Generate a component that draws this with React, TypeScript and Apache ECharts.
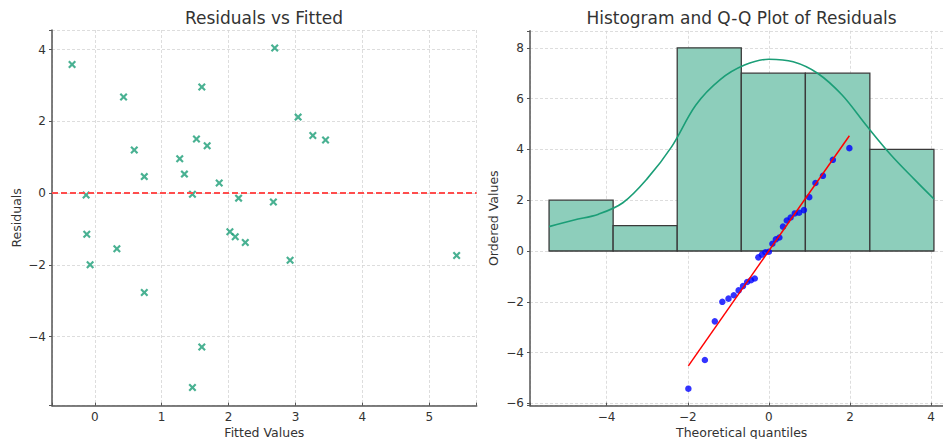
import React, { useEffect, useRef } from 'react';
import * as echarts from 'echarts';

// Residuals vs Fitted
const fittedValues = [-0.34, -0.13, 0.43, 0.59, 0.74, 1.27, 1.34, 1.46, 1.52, 1.6, 1.68, 1.86, 2.15, 2.67, 2.69, 3.04, 3.26, 3.45, -0.12, 0.33, -0.07, 0.74, 2.02, 2.1, 2.25, 2.92, 5.41, 1.6, 1.46];
const residualValues = [3.59, -0.05, 2.68, 1.2, 0.46, 0.96, 0.53, -0.03, 1.51, 2.96, 1.32, 0.285, -0.14, -0.25, 4.05, 2.12, 1.61, 1.48, -1.15, -1.55, -2.0, -2.77, -1.08, -1.22, -1.38, -1.875, -1.74, -4.29, -5.42];

// Histogram of residuals
const histBinStart = [-5.42, -3.84, -2.26, -0.68, 0.9, 2.49];
const histBinEnd = [-3.84, -2.26, -0.68, 0.9, 2.49, 4.07];
const histCounts = [2, 1, 8, 7, 7, 4];

// KDE curve (scaled to counts)
const kdeX = [-5.42, -4.8, -4.2, -3.6, -3.0, -2.4, -1.8, -1.2, -0.6, 0.0, 0.6, 1.2, 1.8, 2.4, 3.0, 3.6, 4.07];
const kdeY = [0.96, 1.22, 1.45, 1.9, 2.85, 4.1, 5.75, 6.75, 7.32, 7.55, 7.45, 7.0, 6.15, 4.95, 3.8, 2.8, 2.05];

// Q-Q plot
const qqTheoretical = [-1.985, -1.578, -1.333, -1.148, -0.996, -0.865, -0.746, -0.638, -0.536, -0.441, -0.348, -0.259, -0.172, -0.086, 0, 0.086, 0.172, 0.259, 0.348, 0.441, 0.536, 0.638, 0.746, 0.865, 0.996, 1.148, 1.333, 1.578, 1.985];
const qqOrdered = [-5.42, -4.29, -2.77, -2.0, -1.875, -1.74, -1.55, -1.38, -1.22, -1.15, -1.08, -0.25, -0.14, -0.05, -0.03, 0.285, 0.46, 0.53, 0.96, 1.2, 1.32, 1.48, 1.51, 1.61, 2.12, 2.68, 2.96, 3.59, 4.05];
const qqFitX = [-1.985, 1.985];
const qqFitY = [-4.52, 4.54];

const FONT = 'DejaVu Sans';
const TXT = '#333';
const GREEN = '#1b9e77';

const X_MARK = 'path://M0,1.9L1.9,0L5,3.1L8.1,0L10,1.9L6.9,5L10,8.1L8.1,10L5,6.9L1.9,10L0,8.1L3.1,5Z';

const tickFmt = (v: number) => {
  if (Math.abs(v - Math.round(v)) > 1e-6) return '';
  const r = Math.round(v);
  return r < 0 ? '\u2212' + Math.abs(r) : String(r);
};

function axisCommon(isX: boolean) {
  return {
    type: 'value' as const,
    axisLine: { show: true, onZero: false, lineStyle: { color: '#555', width: 1.5 } },
    axisTick: { show: true, inside: isX, length: 3, lineStyle: { color: '#555', width: 1 } },
    axisLabel: {
      formatter: tickFmt,
      color: TXT,
      fontFamily: FONT,
      fontSize: 12,
      margin: isX ? 5 : 6,
      showMinLabel: true,
      showMaxLabel: true,
    },
    splitLine: { show: true, lineStyle: { color: '#d4d4d4', width: 0.8, type: [3, 2] } },
    nameLocation: 'middle' as const,
    nameMoveOverlap: false,
    nameTextStyle: { color: TXT, fontFamily: FONT, fontSize: 12.5 },
  };
}

export default function App() {
  const ref = useRef<HTMLDivElement>(null);
  useEffect(() => {
    const chart = echarts.init(ref.current!, null, { renderer: 'svg' });
    const scatterData = fittedValues.map((f, i) => [f, residualValues[i]]);
    const histData = histCounts.map((c, i) => [histBinStart[i], histBinEnd[i], c]);
    const kdeData = kdeX.map((x, i) => [x, kdeY[i]]);
    const qqData = qqTheoretical.map((x, i) => [x, qqOrdered[i]]);
    const fitData = qqFitX.map((x, i) => [x, qqFitY[i]]);

    const option: any = {
      animation: false,
      backgroundColor: '#ffffff',
      graphic: [
        {
          type: 'text', x: 264, y: 18,
          style: { text: 'Residuals vs Fitted', fill: TXT, font: `17px "${FONT}"`, textAlign: 'center', textVerticalAlign: 'middle' },
        },
        {
          type: 'text', x: 741.5, y: 18,
          style: { text: 'Histogram and Q-Q Plot of Residuals', fill: TXT, font: `17px "${FONT}"`, textAlign: 'center', textVerticalAlign: 'middle' },
        },
      ],
      grid: [
        { left: 52, top: 30, width: 424.7, height: 375.7, outerBoundsMode: 'none', containLabel: false },
        { left: 530, top: 30.8, width: 423.4, height: 374.9, outerBoundsMode: 'none', containLabel: false },
      ],
      xAxis: [
        { ...axisCommon(true), gridIndex: 0, min: -0.64, max: 5.71, splitNumber: 6, name: 'Fitted Values', nameGap: 20 },
        { ...axisCommon(true), gridIndex: 1, min: -5.89, max: 4.55, splitNumber: 5, name: 'Theoretical quantiles', nameGap: 20 },
      ],
      yAxis: [
        { ...axisCommon(false), gridIndex: 0, min: -5.93, max: 4.55, splitNumber: 5, name: 'Residuals', nameGap: 29 },
        { ...axisCommon(false), gridIndex: 1, min: -6.09, max: 8.67, splitNumber: 7, name: 'Ordered Values', nameGap: 30 },
      ],
      series: [
        {
          type: 'scatter',
          xAxisIndex: 0, yAxisIndex: 0,
          data: scatterData,
          symbol: X_MARK,
          symbolSize: 8,
          itemStyle: { color: GREEN },
          markLine: {
            silent: true,
            symbol: 'none',
            label: { show: false },
            lineStyle: { color: '#ff4d4d', width: 2, type: [6, 3] },
            data: [{ yAxis: 0 }],
          },
          z: 3,
        },
        {
          type: 'custom',
          xAxisIndex: 1, yAxisIndex: 1,
          data: histData,
          encode: { x: [0, 1], y: 2 },
          renderItem: (params: any, api: any) => {
            const p0 = api.coord([api.value(0), api.value(2)]);
            const p1 = api.coord([api.value(1), 0]);
            return {
              type: 'rect',
              shape: { x: p0[0], y: p0[1], width: p1[0] - p0[0], height: p1[1] - p0[1] },
              style: { fill: '#8dcebb', stroke: '#3a3a3a', lineWidth: 1.3 },
            };
          },
          z: 1,
        },
        {
          type: 'line',
          xAxisIndex: 1, yAxisIndex: 1,
          data: kdeData,
          smooth: 0.35,
          showSymbol: false,
          lineStyle: { color: GREEN, width: 1.6 },
          z: 2,
        },
        {
          type: 'scatter',
          xAxisIndex: 1, yAxisIndex: 1,
          data: qqData,
          symbol: 'circle',
          symbolSize: 6.5,
          itemStyle: { color: '#0000ff' },
          z: 3,
        },
        {
          type: 'line',
          xAxisIndex: 1, yAxisIndex: 1,
          data: fitData,
          showSymbol: false,
          lineStyle: { color: '#ff0000', width: 1.5 },
          z: 4,
        },
      ],
    };
    chart.setOption(option);
    return () => chart.dispose();
  }, []);
  return (
    <div
      ref={ref}
      style={{ position: 'fixed', left: 0, top: 0, width: 943, height: 439, background: '#fff' }}
    />
  );
}
